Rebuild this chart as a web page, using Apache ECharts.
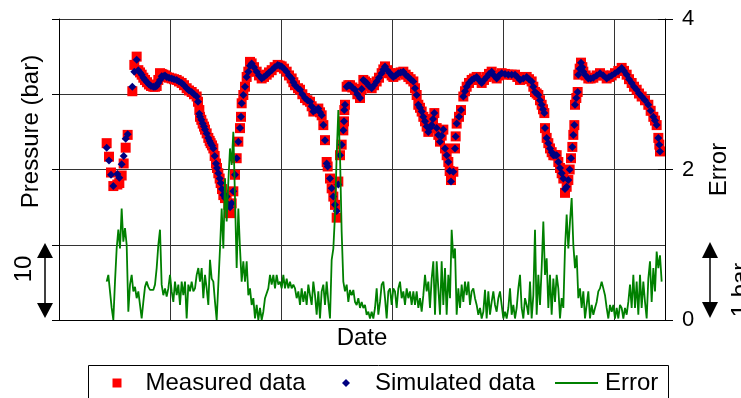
<!DOCTYPE html>
<html>
<head>
<meta charset="utf-8">
<script src="https://cdn.jsdelivr.net/npm/echarts@6/dist/echarts.min.js"></script>
<style>
html,body{margin:0;padding:0;background:#fff;}
#chart{width:741px;height:398px;}
</style>
</head>
<body>
<div id="chart"></div>
<script>
// Sample index of each pressure reading (time axis, one grid cell = 66.6 samples)
const sampleIdx = [
  28.6, 30.0, 31.2, 32.6, 35.0, 36.2, 37.6, 38.8, 40.0, 41.2,
  44.0, 45.2, 46.6, 47.6, 48.6, 49.6, 50.6, 51.6, 52.8, 54.0,
  55.2, 56.6, 57.6, 58.6, 59.6, 60.6, 61.6, 62.6, 63.6, 64.6,
  66.0, 67.6, 69.0, 70.6, 72.0, 73.6, 75.0, 76.6, 78.0, 79.6,
  81.0, 82.6, 83.4, 84.2, 84.6, 85.4, 86.2, 87.0, 87.6, 88.6,
  89.6, 90.4, 91.0, 91.8, 92.6, 93.4, 94.2, 94.8, 95.6, 96.4,
  97.0, 97.8, 98.6, 99.6, 100.6, 101.6, 102.6, 103.6, 104.6, 105.6,
  106.6, 107.6, 108.6, 109.2, 109.6, 110.6, 111.6, 112.6, 113.6, 114.6,
  115.6, 117.0, 118.6, 120.0, 121.6, 123.0, 124.6, 126.0, 127.6, 129.4,
  131.2, 132.4, 133.6, 135.0, 136.6, 138.0, 139.6, 140.6, 141.6, 143.4,
  144.6, 146.0, 147.6, 149.0, 150.6, 151.6, 152.6, 154.0, 155.6, 156.6,
  157.6, 158.6, 159.6, 160.6, 161.2, 162.6, 163.6, 164.6, 165.6, 166.6,
  167.6, 168.6, 169.6, 170.6, 171.0, 171.2, 171.6, 172.6, 173.6, 174.6,
  176.0, 177.6, 179.0, 180.6, 181.6, 182.6, 183.6, 184.6, 186.0, 187.6,
  189.0, 190.6, 192.0, 193.6, 194.6, 195.6, 197.0, 198.6, 199.6, 200.6,
  202.0, 203.6, 205.0, 206.6, 208.0, 209.6, 211.0, 212.6, 213.6, 214.6,
  215.6, 216.6, 217.6, 218.6, 219.6, 220.6, 221.6, 222.6, 223.6, 224.4,
  225.2, 226.6, 227.6, 228.6, 229.6, 230.6, 231.6, 232.6, 233.6, 234.4,
  235.2, 236.6, 237.6, 238.0, 238.6, 240.0, 241.2, 242.6, 243.6, 244.6,
  246.0, 247.6, 249.0, 250.6, 252.0, 253.6, 255.0, 256.6, 258.0, 259.6,
  261.0, 262.6, 264.0, 265.6, 267.6, 269.6, 271.6, 273.6, 275.0, 276.6,
  278.6, 280.6, 282.0, 283.6, 284.6, 285.6, 286.6, 287.6, 288.6, 289.6,
  290.4, 291.2, 291.6, 292.6, 293.6, 294.6, 295.6, 296.6, 297.6, 298.6,
  299.6, 300.6, 301.6, 302.6, 303.6, 304.6, 305.6, 306.4, 307.2, 308.0,
  308.6, 309.2, 309.6, 310.4, 311.2, 311.6, 312.4, 313.2, 314.0, 314.6,
  316.0, 317.6, 319.0, 320.6, 322.6, 324.6, 326.6, 328.6, 330.0, 331.6,
  333.6, 335.6, 337.6, 339.0, 340.6, 342.0, 343.6, 345.0, 346.6, 348.0,
  349.6, 351.6, 353.6, 355.0, 356.6, 357.6, 358.6, 359.6, 360.2, 360.6
];
// Measured pressure (bar)
const measured = [
  2.35, 2.17, 1.96, 1.78, 1.80, 1.82, 1.92, 2.08, 2.29, 2.46,
  3.04, 3.39, 3.50, 3.32, 3.29, 3.26, 3.22, 3.19, 3.16, 3.13,
  3.11, 3.10, 3.10, 3.11, 3.19, 3.28, 3.27, 3.26, 3.25, 3.23,
  3.22, 3.21, 3.20, 3.19, 3.17, 3.15, 3.12, 3.08, 3.05, 3.03,
  3.00, 2.97, 2.90, 2.79, 2.70, 2.66, 2.61, 2.57, 2.53, 2.48,
  2.42, 2.38, 2.35, 2.32, 2.28, 2.18, 2.08, 2.02, 1.95, 1.88,
  1.82, 1.74, 1.66, 1.62, 1.64, 1.53, 1.42, 1.55, 1.71, 1.93,
  2.15, 2.37, 2.55, 2.70, 2.88, 2.99, 3.10, 3.23, 3.30, 3.43,
  3.41, 3.36, 3.30, 3.25, 3.21, 3.23, 3.26, 3.29, 3.32, 3.36,
  3.39, 3.38, 3.37, 3.34, 3.30, 3.25, 3.21, 3.16, 3.12, 3.08,
  3.06, 3.00, 2.95, 2.92, 2.90, 2.84, 2.77, 2.79, 2.81, 2.76,
  2.72, 2.59, 2.39, 2.10, 2.04, 1.88, 1.75, 1.64, 1.53, 1.36,
  1.84, 2.19, 2.33, 2.52, 2.64, 2.79, 2.86, 3.10, 3.12, 3.12,
  3.09, 3.06, 3.00, 2.95, 3.07, 3.19, 3.17, 3.15, 3.11, 3.08,
  3.12, 3.17, 3.22, 3.28, 3.33, 3.37, 3.32, 3.28, 3.25, 3.23,
  3.25, 3.28, 3.29, 3.30, 3.26, 3.23, 3.20, 3.17, 3.08, 2.99,
  2.86, 2.82, 2.77, 2.70, 2.64, 2.57, 2.50, 2.55, 2.59, 2.67,
  2.75, 2.55, 2.46, 2.37, 2.45, 2.53, 2.28, 2.19, 2.10, 1.98,
  1.86, 1.97, 2.28, 2.44, 2.61, 2.70, 2.79, 2.97, 3.04, 3.10,
  3.15, 3.19, 3.21, 3.23, 3.19, 3.15, 3.19, 3.23, 3.27, 3.30,
  3.25, 3.21, 3.25, 3.28, 3.27, 3.26, 3.26, 3.26, 3.23, 3.19,
  3.21, 3.23, 3.20, 3.17, 3.10, 3.03, 3.01, 2.99, 2.92, 2.86,
  2.80, 2.75, 2.55, 2.42, 2.35, 2.28, 2.23, 2.19, 2.19, 2.19,
  2.10, 2.02, 1.95, 1.88, 1.69, 1.77, 1.86, 2.00, 2.15, 2.30,
  2.46, 2.59, 2.86, 2.95, 3.03, 3.26, 3.34, 3.42, 3.36, 3.30,
  3.25, 3.21, 3.21, 3.22, 3.25, 3.28, 3.25, 3.21, 3.23, 3.25,
  3.28, 3.31, 3.35, 3.31, 3.26, 3.20, 3.15, 3.10, 3.06, 3.01,
  2.97, 2.92, 2.86, 2.78, 2.70, 2.65, 2.59, 2.42, 2.33, 2.24
];
// Simulated pressure (bar)
const simulated = [
  2.29, 2.12, 1.93, 1.78, 1.94, 1.89, 2.07, 2.18, 2.41, 2.47,
  3.10, 3.30, 3.46, 3.32, 3.29, 3.26, 3.22, 3.19, 3.16, 3.13,
  3.11, 3.10, 3.10, 3.11, 3.15, 3.19, 3.24, 3.24, 3.25, 3.23,
  3.22, 3.21, 3.20, 3.19, 3.17, 3.15, 3.12, 3.08, 3.05, 3.03,
  3.00, 2.97, 2.90, 2.74, 2.70, 2.66, 2.61, 2.57, 2.53, 2.48,
  2.42, 2.38, 2.35, 2.32, 2.28, 2.18, 2.08, 2.02, 1.95, 1.88,
  1.82, 1.74, 1.66, 1.62, 1.64, 1.53, 1.50, 1.55, 1.71, 1.93,
  2.15, 2.37, 2.55, 2.70, 2.88, 2.99, 3.10, 3.23, 3.30, 3.38,
  3.41, 3.36, 3.30, 3.25, 3.21, 3.23, 3.26, 3.29, 3.32, 3.36,
  3.39, 3.38, 3.37, 3.34, 3.30, 3.25, 3.21, 3.16, 3.12, 3.08,
  3.06, 3.00, 2.95, 2.92, 2.90, 2.84, 2.77, 2.79, 2.81, 2.76,
  2.72, 2.59, 2.39, 2.08, 2.04, 1.88, 1.75, 1.64, 1.53, 1.45,
  1.80, 2.19, 2.33, 2.52, 2.64, 2.79, 2.86, 3.10, 3.12, 3.12,
  3.09, 3.06, 3.00, 2.95, 3.07, 3.19, 3.17, 3.15, 3.11, 3.08,
  3.12, 3.17, 3.22, 3.28, 3.33, 3.37, 3.32, 3.28, 3.25, 3.23,
  3.25, 3.28, 3.29, 3.30, 3.26, 3.23, 3.20, 3.17, 3.08, 2.99,
  2.86, 2.82, 2.77, 2.70, 2.64, 2.57, 2.50, 2.55, 2.59, 2.67,
  2.75, 2.55, 2.46, 2.37, 2.45, 2.53, 2.28, 2.19, 2.10, 1.98,
  1.84, 1.97, 2.28, 2.44, 2.61, 2.70, 2.79, 2.97, 3.04, 3.10,
  3.15, 3.19, 3.21, 3.23, 3.19, 3.15, 3.19, 3.23, 3.27, 3.30,
  3.25, 3.21, 3.25, 3.28, 3.27, 3.26, 3.26, 3.26, 3.23, 3.19,
  3.21, 3.23, 3.20, 3.17, 3.10, 3.03, 3.01, 2.99, 2.92, 2.86,
  2.80, 2.75, 2.55, 2.42, 2.35, 2.28, 2.23, 2.19, 2.19, 2.19,
  2.10, 2.02, 1.95, 1.88, 1.74, 1.77, 1.86, 2.00, 2.15, 2.30,
  2.46, 2.59, 2.86, 2.95, 3.03, 3.26, 3.34, 3.42, 3.36, 3.30,
  3.25, 3.21, 3.21, 3.22, 3.25, 3.28, 3.25, 3.21, 3.23, 3.25,
  3.28, 3.31, 3.35, 3.31, 3.26, 3.20, 3.15, 3.10, 3.06, 3.01,
  2.97, 2.92, 2.86, 2.78, 2.70, 2.65, 2.59, 2.42, 2.33, 2.24
];
// Error series: regular samples starting at errStart, one per sample index
const errStart = 28.6;
const errStep = 1;
const errorValues = [
  0.51,0.60,0.38,0.16,0.00,0.51,0.95,1.20,0.95,1.48,
  1.04,1.22,1.00,0.11,0.47,0.60,0.38,0.44,0.29,0.38,
  0.20,0.02,0.24,0.44,0.51,0.44,0.40,0.40,0.40,0.47,
  0.69,1.00,1.20,0.47,0.33,0.42,0.31,0.42,0.60,0.38,
  0.24,0.51,0.33,0.47,0.20,0.51,0.33,0.51,0.02,0.47,
  0.38,0.51,0.38,
  0.42,0.60,0.69,0.51,0.69,0.29,0.60,0.42,0.20,0.80,
  0.55,0.51,0.24,0.00,0.02,0.95,1.48,0.95,1.88,1.31,
  1.84,2.28,2.06,2.50,1.62,0.69,1.48,0.95,0.51,0.78,
  0.51,0.78,0.33,0.42,0.20,0.29,0.02,0.20,0.00,0.16,
  0.00,0.11,0.29,0.31,0.42,0.60,0.47,0.60,0.42,0.60,
  0.47,0.51,0.42,0.60,0.42,0.55,0.42,0.51,0.42,0.47,
  0.42,0.29,0.38,0.20,0.42,0.24,0.38,0.20,0.47,0.33,
  0.20,0.51,0.33,0.07,0.38,0.02,0.38,0.47,0.20,0.51,
  0.24,0.02,0.80,0.95,1.40,2.19,2.79,2.19,1.17,0.51,
  0.38,0.47,0.24,0.40,0.33,0.40,0.24,0.20,0.29,0.16,
  0.24,0.16,0.20,0.07,0.11,0.02,0.11,0.02,0.16,0.42,
  0.07,0.24,0.47,0.51,0.29,0.02,0.38,0.42,0.20,0.42,
  0.38,0.16,0.42,0.51,0.29,0.38,0.20,0.42,0.29,0.38,
  0.20,0.38,0.20,0.38,0.16,0.29,0.11,0.33,0.60,0.38,
  0.51,0.16,0.55,0.78,0.07,0.78,0.42,0.07,0.78,0.20,
  0.69,0.07,0.60,0.29,1.20,0.82,0.95,0.07,0.42,0.16,
  0.47,0.24,0.51,0.33,0.51,0.20,0.38,0.42,0.29,0.20,
  0.07,0.16,0.02,0.11,0.40,0.02,0.38,0.07,0.24,0.38,
  0.20,0.11,0.29,0.38,0.20,0.02,0.11,0.02,0.16,0.42,
  0.07,0.20,0.02,0.16,0.42,0.60,0.16,0.02,0.29,0.20,
  0.07,0.51,0.02,0.33,1.20,0.07,0.60,0.20,0.69,1.31,
  0.60,0.82,0.16,0.60,0.07,0.55,0.24,0.60,0.42,0.02,
  0.29,0.16,0.95,1.40,0.95,1.31,1.62,1.00,0.69,0.86,
  0.29,0.42,0.16,0.38,0.02,0.20,0.38,0.02,0.20,
  0.07,0.16,0.24,0.38,0.42,0.51,0.42,0.33,0.16,0.02,
  0.20,0.11,0.20,0.02,0.16,0.02,0.20,0.16,0.02,0.16,
  0.07,0.24,0.47,0.16,0.60,0.16,0.51,0.07,0.60,0.16,
  0.51,0.24,0.02,0.55,0.78,0.24,0.69,0.38,0.91,0.69,
  0.86,0.51
];
const pressureTicks = [0, 1, 2, 3, 4];
const errorTickLabels = ['0', '2', '4'];
const seriesNames = ['Measured data', 'Simulated data', 'Error'];

const FONT = 'Liberation Sans, Arial, sans-serif';
const chart = echarts.init(document.getElementById('chart'), null, {renderer: 'canvas'});

const measuredData = sampleIdx.map((x, i) => [x, measured[i]]);
const simulatedData = sampleIdx.map((x, i) => [x, simulated[i]]);
const errorData = errorValues.map((v, i) => [errStart + i * errStep, v]);

function legendItem(left, name, icon, w, h, color, textPad) {
  return {
    left: left, top: 371, padding: 0, orient: 'horizontal', selectedMode: false,
    itemWidth: w, itemHeight: h,
    textStyle: {fontSize: 24, color: '#000', fontFamily: FONT, padding: [0, 0, 0, textPad]},
    data: [{name: name, icon: icon, itemStyle: {color: color, borderWidth: 0}}]
  };
}

chart.setOption({
  animation: false,
  backgroundColor: '#fff',
  textStyle: {fontFamily: FONT, color: '#000'},
  grid: {left: 59, right: 76, top: 19, bottom: 78, containLabel: false},
  legend: [
    legendItem(112.5, seriesNames[0], 'rect', 9, 9, '#FF0000', 19),
    legendItem(342, seriesNames[1], 'diamond', 8, 8, '#000080', 20),
    legendItem(555, seriesNames[2], 'rect', 43, 2, '#008000', 2)
  ],
  xAxis: {
    type: 'value', min: 0, max: 363.6, interval: 66.6,
    name: 'Date', nameLocation: 'middle', nameGap: 6,
    nameTextStyle: {fontSize: 24, color: '#000', fontFamily: FONT},
    axisLine: {show: true, onZero: false, lineStyle: {color: '#000', width: 1}},
    axisTick: {show: false},
    axisLabel: {show: false},
    splitLine: {show: true, lineStyle: {color: '#333', width: 1}}
  },
  yAxis: [
    {
      type: 'value', min: pressureTicks[0], max: pressureTicks[pressureTicks.length - 1], interval: 1,
      position: 'left',
      name: 'Pressure (bar)', nameLocation: 'middle', nameRotate: 90, nameGap: 16,
      nameTextStyle: {fontSize: 24, color: '#000', fontFamily: FONT, padding: [0, 0, 0, 76]},
      axisLine: {show: true, lineStyle: {color: '#000', width: 1}},
      axisTick: {show: true, inside: false, length: 7, lineStyle: {color: '#000'}},
      axisLabel: {show: false},
      splitLine: {show: true, lineStyle: {color: '#333', width: 1}}
    },
    {
      type: 'value', min: 0, max: 4, interval: 2, position: 'right',
      name: 'Error', nameLocation: 'middle', nameRotate: 90, nameGap: 42,
      nameTextStyle: {fontSize: 24, color: '#000', fontFamily: FONT},
      axisLine: {show: true, lineStyle: {color: '#000', width: 1}},
      axisTick: {show: true, inside: false, length: 8, lineStyle: {color: '#000'}},
      axisLabel: {show: true, fontSize: 22, color: '#000', margin: 17, fontFamily: FONT,
        formatter: v => errorTickLabels[Math.round(v / 2)] ?? String(v)},
      splitLine: {show: false}
    },
    {
      type: 'value', min: 0, max: 4, interval: 2, position: 'right',
      axisLine: {show: false},
      axisTick: {show: true, inside: true, length: 7, lineStyle: {color: '#000'}},
      axisLabel: {show: false},
      splitLine: {show: false}
    }
  ],
  series: [
    {
      name: seriesNames[0], type: 'scatter', yAxisIndex: 0,
      symbol: 'rect', symbolSize: 10,
      itemStyle: {color: '#FF0000', opacity: 1},
      data: measuredData, z: 2
    },
    {
      name: seriesNames[1], type: 'scatter', yAxisIndex: 0,
      symbol: 'diamond', symbolSize: 8,
      itemStyle: {color: '#000080', opacity: 1},
      data: simulatedData, z: 3
    },
    {
      name: seriesNames[2], type: 'line', yAxisIndex: 1,
      symbol: 'none', showSymbol: false,
      lineStyle: {color: '#008000', width: 1.8},
      itemStyle: {color: '#008000'},
      data: errorData, z: 4
    }
  ],
  graphic: [
    {type: 'rect', shape: {x: 88.5, y: 365.5, width: 580, height: 60}, style: {fill: 'none', stroke: '#000', lineWidth: 1}, silent: true},
    // 1-bar scale arrows
    {type: 'line', shape: {x1: 45, y1: 255, x2: 45, y2: 306}, style: {stroke: '#000', lineWidth: 1.5}, silent: true},
    {type: 'polygon', shape: {points: [[37, 258], [53, 258], [45, 243]]}, style: {fill: '#000'}, silent: true},
    {type: 'polygon', shape: {points: [[37, 303], [53, 303], [45, 318]]}, style: {fill: '#000'}, silent: true},
    {type: 'line', shape: {x1: 710, y1: 255, x2: 710, y2: 305}, style: {stroke: '#000', lineWidth: 1.5}, silent: true},
    {type: 'polygon', shape: {points: [[702, 258], [718, 258], [710, 242]]}, style: {fill: '#000'}, silent: true},
    {type: 'polygon', shape: {points: [[702, 302], [718, 302], [710, 318]]}, style: {fill: '#000'}, silent: true},
    {type: 'text', x: 24, y: 269, rotation: Math.PI / 2,
      style: {text: '10', fontSize: 24, fontFamily: FONT, fill: '#000', align: 'center', verticalAlign: 'middle'}, silent: true},
    {type: 'text', x: 741, y: 290, rotation: Math.PI / 2,
      style: {text: '1 bar', fontSize: 24, fontFamily: FONT, fill: '#000', align: 'center', verticalAlign: 'middle'}, silent: true}
  ]
});
</script>
</body>
</html>
